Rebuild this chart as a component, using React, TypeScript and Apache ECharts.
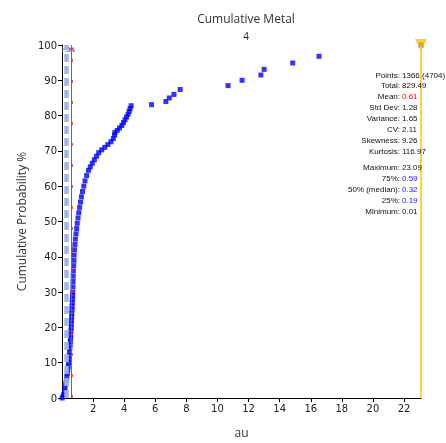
import React, { useEffect, useRef } from "react";
import * as echarts from "echarts";

// Cumulative metal curve: au value (x) vs cumulative probability % (y)
const auValues = [
  0.01, 0.08, 0.12, 0.16, 0.2, 0.24, 0.28, 0.31, 0.34, 0.37, 0.4, 0.42, 0.44, 0.46, 0.48, 0.5,
  0.52, 0.53, 0.55, 0.56, 0.58, 0.59, 0.6, 0.61, 0.62, 0.63, 0.64, 0.65, 0.66, 0.67, 0.68, 0.69,
  0.7, 0.71, 0.72, 0.73, 0.75, 0.77, 0.78, 0.8, 0.83, 0.86, 0.9, 0.94, 0.98, 1.03, 1.08, 1.13,
  1.19, 1.25, 1.32, 1.4, 1.48, 1.58, 1.7, 1.82, 1.95, 2.08, 2.22, 2.36, 2.55, 2.75, 2.95, 3.15,
  3.3, 3.38, 3.4, 3.55, 3.7, 3.85, 3.95, 4.05, 4.15, 4.25, 4.32, 4.38, 4.45, 5.76, 6.68, 6.9,
  7.2, 7.6, 10.68, 11.58, 12.79, 13.0, 14.84, 16.53, 23.09,
];
const cumPct = [
  0, 0.5, 1, 2, 3, 4, 5, 6, 7, 8, 9, 10, 11, 12, 13, 14,
  15, 16, 17, 18, 19, 20, 21, 22, 23, 24, 25, 26, 27, 28, 29, 30,
  31.5, 33, 34.5, 36, 37.5, 39, 40.5, 42, 43.5, 45, 46.5, 48, 49.5, 51, 52.5, 54,
  55.5, 57, 58.5, 60, 61.5, 63, 64.5, 65.5, 66.5, 67.5, 68.5, 69.5, 70.3, 71, 71.8, 72.6,
  73.5, 74.5, 75.2, 75.8, 76.5, 77.2, 78, 78.8, 79.6, 80.4, 81.2, 82, 82.8, 83.1, 84, 85,
  86, 87.4, 88.5, 90, 91.5, 93.1, 94.9, 96.8, 100,
];

// Reference lines
const q25 = 0.19;
const q50 = 0.32;
const q75 = 0.59;
const meanVal = 0.61;
const maxVal = 23.09;

// Statistics panel
const statLabels = ["Points:", "Total:", "Mean:", "Std Dev:", "Variance:", "CV:", "Skewness:", "Kurtosis:",
  "Maximum:", "75%:", "50% (median):", "25%:", "Minimum:"];
const statValues = ["1366 (4704)", "829.49", "0.61", "1.28", "1.65", "2.11", "9.26", "116.97",
  "23.09", "0.59", "0.32", "0.19", "0.01"];
const statColors = ["#111", "#111", "#ff0000", "#111", "#111", "#111", "#111", "#111",
  "#111", "#1a1aff", "#1a1aff", "#1a1aff", "#111"];

export default function App() {
  const ref = useRef<HTMLDivElement>(null);
  useEffect(() => {
    if (!ref.current) return;
    const chart = echarts.init(ref.current, undefined, { renderer: "svg" });
    const pts = auValues.map((v, i) => [v, cumPct[i]]);
    const font = "'DejaVu Sans', sans-serif";
    const statGraphics: any[] = [];
    statLabels.forEach((lab, i) => {
      const y = i < 8 ? 75 + i * 10.9 : 167 + (i - 8) * 11.1;
      statGraphics.push({
        type: "text", x: 400, y,
        style: { text: lab, fontSize: 8, fontFamily: "'Liberation Sans', sans-serif", fill: "#111", align: "right", verticalAlign: "middle" },
        z: 20,
      });
      statGraphics.push({
        type: "text", x: 402, y,
        style: { text: statValues[i], fontSize: 8, fontFamily: "'Liberation Sans', sans-serif", fill: statColors[i], align: "left", verticalAlign: "middle" },
        z: 20,
      });
    });
    const vLine = (x: number, color: string, type: any, width: number, label: string) => ({
      xAxis: x,
      lineStyle: { color, type, width },
      label: { show: !!label, formatter: label, position: "end", distance: -7, fontSize: 6, color, fontFamily: font },
    });
    chart.setOption({
      animation: false,
      title: [
        { text: "Cumulative Metal", left: 241, top: 7, textAlign: "center",
          textStyle: { fontSize: 12, fontWeight: "normal", fontFamily: "'Open Sans', sans-serif", color: "#333" } },
        { text: "4", left: 241, top: 26, textAlign: "center",
          textStyle: { fontSize: 10, fontWeight: "normal", fontFamily: "'Open Sans', sans-serif", color: "#222" } },
      ],
      grid: { left: 62, right: 25, top: 45, bottom: 44 },
      xAxis: {
        type: "value", min: 0, max: maxVal, interval: 2,
        name: "au", nameLocation: "middle", nameGap: 28,
        nameTextStyle: { fontSize: 12, fontFamily: "'Open Sans', sans-serif", color: "#333" },
        axisLine: { lineStyle: { color: "#000", width: 1 } },
        axisTick: { show: true, length: 4, lineStyle: { color: "#000" } },
        axisLabel: { fontSize: 10, color: "#222", fontFamily: font, showMinLabel: false, showMaxLabel: false, margin: 5 },
        splitLine: { show: false },
      },
      yAxis: {
        type: "value", min: 0, max: 100, interval: 10,
        name: "Cumulative Probability %", nameLocation: "middle", nameGap: 35,
        nameTextStyle: { fontSize: 12, fontFamily: "'Open Sans', sans-serif", color: "#333" },
        axisLine: { show: true, lineStyle: { color: "#000", width: 1 } },
        axisTick: { show: true, length: 4, lineStyle: { color: "#000" } },
        axisLabel: { fontSize: 10, color: "#222", fontFamily: font, margin: 5 },
        splitLine: { show: false },
      },
      graphic: statGraphics,
      series: [
        {
          type: "line", data: [], silent: true, z: 2,
          markLine: {
            silent: true, symbol: "none", animation: false,
            data: [
              vLine(q25, "#9fb4e8", [8, 4], 2.5, "25"),
              vLine(q50, "#9fb4e8", [8, 4], 2.5, "50"),
              vLine(q75, "#4466ff", "solid", 1, "75"),
              vLine(meanVal, "#ff2020", [3, 18], 1.5, "M"),
              vLine(maxVal, "#ffc000", "solid", 1.5, ""),
            ],
          },
        },
        {
          type: "scatter", data: pts, symbol: "rect", symbolSize: 5, z: 3,
          itemStyle: { color: "#0000ff" },
        },
        {
          type: "scatter", data: [[maxVal, 100]], symbol: "triangle", symbolRotate: 180,
          symbolSize: [12, 12], z: 10, itemStyle: { color: "#ffc000" }, silent: true,
        },
      ],
    });
    return () => chart.dispose();
  }, []);
  return <div ref={ref} style={{ position: "fixed", left: 0, top: 0, width: 446, height: 443 }} />;
}
